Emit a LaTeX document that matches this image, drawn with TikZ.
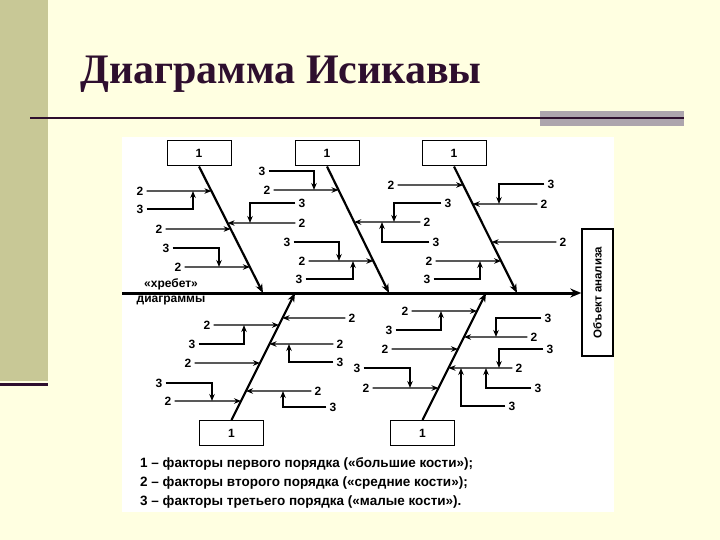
\documentclass[tikz,border=0pt]{standalone}
\usepackage{fontspec}
\setmainfont{Liberation Serif}
\setsansfont{Liberation Sans}
\usetikzlibrary{arrows.meta}
\definecolor{slidebg}{HTML}{FFFFE1}
\definecolor{sidebar}{HTML}{C8C896}
\definecolor{plum}{HTML}{2E0F2E}
\definecolor{greybar}{HTML}{ADA5AD}

\begin{document}
\begin{tikzpicture}[x=1pt,y=-1pt,
  bigbox/.style={draw,line width=1pt,minimum width=64pt,minimum height=25pt,inner sep=0pt,font=\sffamily\bfseries\fontsize{12}{14}\selectfont},
  objbox/.style={draw,line width=1.4pt,minimum width=127pt,minimum height=31pt,inner sep=0pt,rotate=90,font=\sffamily\bfseries\fontsize{11.5}{13}\selectfont},
  num/.style={inner sep=3pt,font=\sffamily\bfseries\fontsize{12}{14}\selectfont},
  keyline/.style={inner sep=0pt,anchor=west,font=\sffamily\bfseries\fontsize{13.5}{16}\selectfont},
  twig/.style={line width=1.2pt,-{Stealth[length=7pt,width=5.5pt]}},
  bone/.style={line width=2.2pt,-{Stealth[length=9pt,width=7pt]}},
  backbone/.style={line width=3pt,-{Stealth[length=11pt,width=9pt]}}]
\useasboundingbox (0,0) rectangle (720,540);
\fill[slidebg] (0,0) rectangle (720,540);
\fill[sidebar] (0,0) rectangle (48,381);
\draw[plum,line width=3pt] (0,384) -- (48,384);
\node[anchor=base west,inner sep=0pt,text=plum,font=\fontsize{42}{50}\selectfont\bfseries] (title) at (80,84) {Диаграмма Исикавы};
\fill[greybar] (540,111) rectangle (684,126);
\draw[plum,line width=2pt] (30,118) -- (684,118);
\fill[white] (122,137) rectangle (614,512);

% big bones
\node[bigbox] (big1) at (199,153.5) {1};
\node[bigbox] (big2) at (327,153.5) {1};
\node[bigbox] (big3) at (454,153.5) {1};
\node[bigbox] (big4) at (231.5,433) {1};
\node[bigbox] (big5) at (422.5,433) {1};
\node[objbox] (obj) at (597.5,292.5) {Объект анализа};
\coordinate (tail) at (122,293);
\coordinate (j1) at (263,293);
\coordinate (j2) at (389,293);
\coordinate (j3) at (517,293);
\coordinate (j4) at (295,293);
\coordinate (j5) at (486,293);
\draw[backbone] (tail) -- (tail -| obj.north);
\draw[bone] (big1.south) -- (j1);
\draw[bone] (big2.south) -- (j2);
\draw[bone] (big3.south) -- (j3);
\draw[bone] (big4.north) -- (j4);
\draw[bone] (big5.north) -- (j5);
\node[num] (spine1) at (171,284) {«хребет»};
\node[num] (spine2) at (171,301) {диаграммы};

% bone 1
\node[num] (m1a) at (140,191) {2};
\node[num] (s1a) at (140,209) {3};
\node[num] (m1b) at (159,229) {2};
\node[num] (m1c) at (302,223) {2};
\node[num] (s1c) at (302,203) {3};
\node[num] (m1d) at (178,267) {2};
\node[num] (s1d) at (166,248) {3};
\draw[twig] (m1a.east) -- (intersection of big1.south--j1 and m1a.west--m1a.east);
\draw[twig] (s1a.east) -| (m1a -| 193,0);
\draw[twig] (m1b.east) -- (intersection of big1.south--j1 and m1b.west--m1b.east);
\draw[twig] (m1c.west) -- (intersection of big1.south--j1 and m1c.west--m1c.east);
\draw[twig] (s1c.west) -| (m1c -| 250,0);
\draw[twig] (m1d.east) -- (intersection of big1.south--j1 and m1d.west--m1d.east);
\draw[twig] (s1d.east) -| (m1d -| 219,0);

% bone 2
\node[num] (m2a) at (267,190) {2};
\node[num] (s2a) at (262,171) {3};
\node[num] (m2b) at (302,261) {2};
\node[num] (s2b) at (287,242) {3};
\node[num] (s2c) at (299,279) {3};
\node[num] (m2c) at (427,222) {2};
\node[num] (s2d) at (448,203) {3};
\node[num] (s2e) at (436,242) {3};
\draw[twig] (m2a.east) -- (intersection of big2.south--j2 and m2a.west--m2a.east);
\draw[twig] (s2a.east) -| (m2a -| 314,0);
\draw[twig] (m2b.east) -- (intersection of big2.south--j2 and m2b.west--m2b.east);
\draw[twig] (s2b.east) -| (m2b -| 339,0);
\draw[twig] (s2c.east) -| (m2b -| 353,0);
\draw[twig] (m2c.west) -- (intersection of big2.south--j2 and m2c.west--m2c.east);
\draw[twig] (s2d.west) -| (m2c -| 394,0);
\draw[twig] (s2e.west) -| (m2c -| 382,0);

% bone 3
\node[num] (m3a) at (391,185) {2};
\node[num] (m3b) at (544,204) {2};
\node[num] (s3a) at (551,184) {3};
\node[num] (m3c) at (563,242) {2};
\node[num] (m3d) at (429,261) {2};
\node[num] (s3b) at (427,279) {3};
\draw[twig] (m3a.east) -- (intersection of big3.south--j3 and m3a.west--m3a.east);
\draw[twig] (m3b.west) -- (intersection of big3.south--j3 and m3b.west--m3b.east);
\draw[twig] (s3a.west) -| (m3b -| 499,0);
\draw[twig] (m3c.west) -- (intersection of big3.south--j3 and m3c.west--m3c.east);
\draw[twig] (m3d.east) -- (intersection of big3.south--j3 and m3d.west--m3d.east);
\draw[twig] (s3b.east) -| (m3d -| 480,0);

% bone 4
\node[num] (m4a) at (207,325) {2};
\node[num] (s4a) at (192,344) {3};
\node[num] (m4b) at (188,363) {2};
\node[num] (m4c) at (168,401) {2};
\node[num] (s4b) at (159,383) {3};
\node[num] (m4d) at (352,318) {2};
\node[num] (m4e) at (340,344) {2};
\node[num] (s4c) at (340,362) {3};
\node[num] (m4f) at (318,391) {2};
\node[num] (s4d) at (333,407) {3};
\draw[twig] (m4a.east) -- (intersection of big4.north--j4 and m4a.west--m4a.east);
\draw[twig] (s4a.east) -| (m4a -| 244,0);
\draw[twig] (m4b.east) -- (intersection of big4.north--j4 and m4b.west--m4b.east);
\draw[twig] (m4c.east) -- (intersection of big4.north--j4 and m4c.west--m4c.east);
\draw[twig] (s4b.east) -| (m4c -| 212,0);
\draw[twig] (m4d.west) -- (intersection of big4.north--j4 and m4d.west--m4d.east);
\draw[twig] (m4e.west) -- (intersection of big4.north--j4 and m4e.west--m4e.east);
\draw[twig] (s4c.west) -| (m4e -| 289,0);
\draw[twig] (m4f.west) -- (intersection of big4.north--j4 and m4f.west--m4f.east);
\draw[twig] (s4d.west) -| (m4f -| 283,0);

% bone 5
\node[num] (m5a) at (405,311) {2};
\node[num] (s5a) at (389,330) {3};
\node[num] (m5b) at (534,337) {2};
\node[num] (s5b) at (548,318) {3};
\node[num] (m5c) at (385,349) {2};
\node[num] (m5d) at (519,368) {2};
\node[num] (s5c) at (550,349) {3};
\node[num] (s5d) at (538,388) {3};
\node[num] (s5e) at (512,406) {3};
\node[num] (m5e) at (366,388) {2};
\node[num] (s5f) at (357,368) {3};
\draw[twig] (m5a.east) -- (intersection of big5.north--j5 and m5a.west--m5a.east);
\draw[twig] (s5a.east) -| (m5a -| 441,0);
\draw[twig] (m5b.west) -- (intersection of big5.north--j5 and m5b.west--m5b.east);
\draw[twig] (s5b.west) -| (m5b -| 496,0);
\draw[twig] (m5c.east) -- (intersection of big5.north--j5 and m5c.west--m5c.east);
\draw[twig] (m5d.west) -- (intersection of big5.north--j5 and m5d.west--m5d.east);
\draw[twig] (s5c.west) -| (m5d -| 499,0);
\draw[twig] (s5d.west) -| (m5d -| 486,0);
\draw[twig] (s5e.west) -| (m5d -| 461,0);
\draw[twig] (m5e.east) -- (intersection of big5.north--j5 and m5e.west--m5e.east);
\draw[twig] (s5f.east) -| (m5e -| 410,0);

% legend
\node[keyline] (key1) at (140,464) {1 – факторы первого порядка («большие кости»);};
\node[keyline] (key2) at (140,483) {2 – факторы второго порядка («средние кости»);};
\node[keyline] (key3) at (140,502) {3 – факторы третьего порядка («малые кости»).};
\end{tikzpicture}
\end{document}
